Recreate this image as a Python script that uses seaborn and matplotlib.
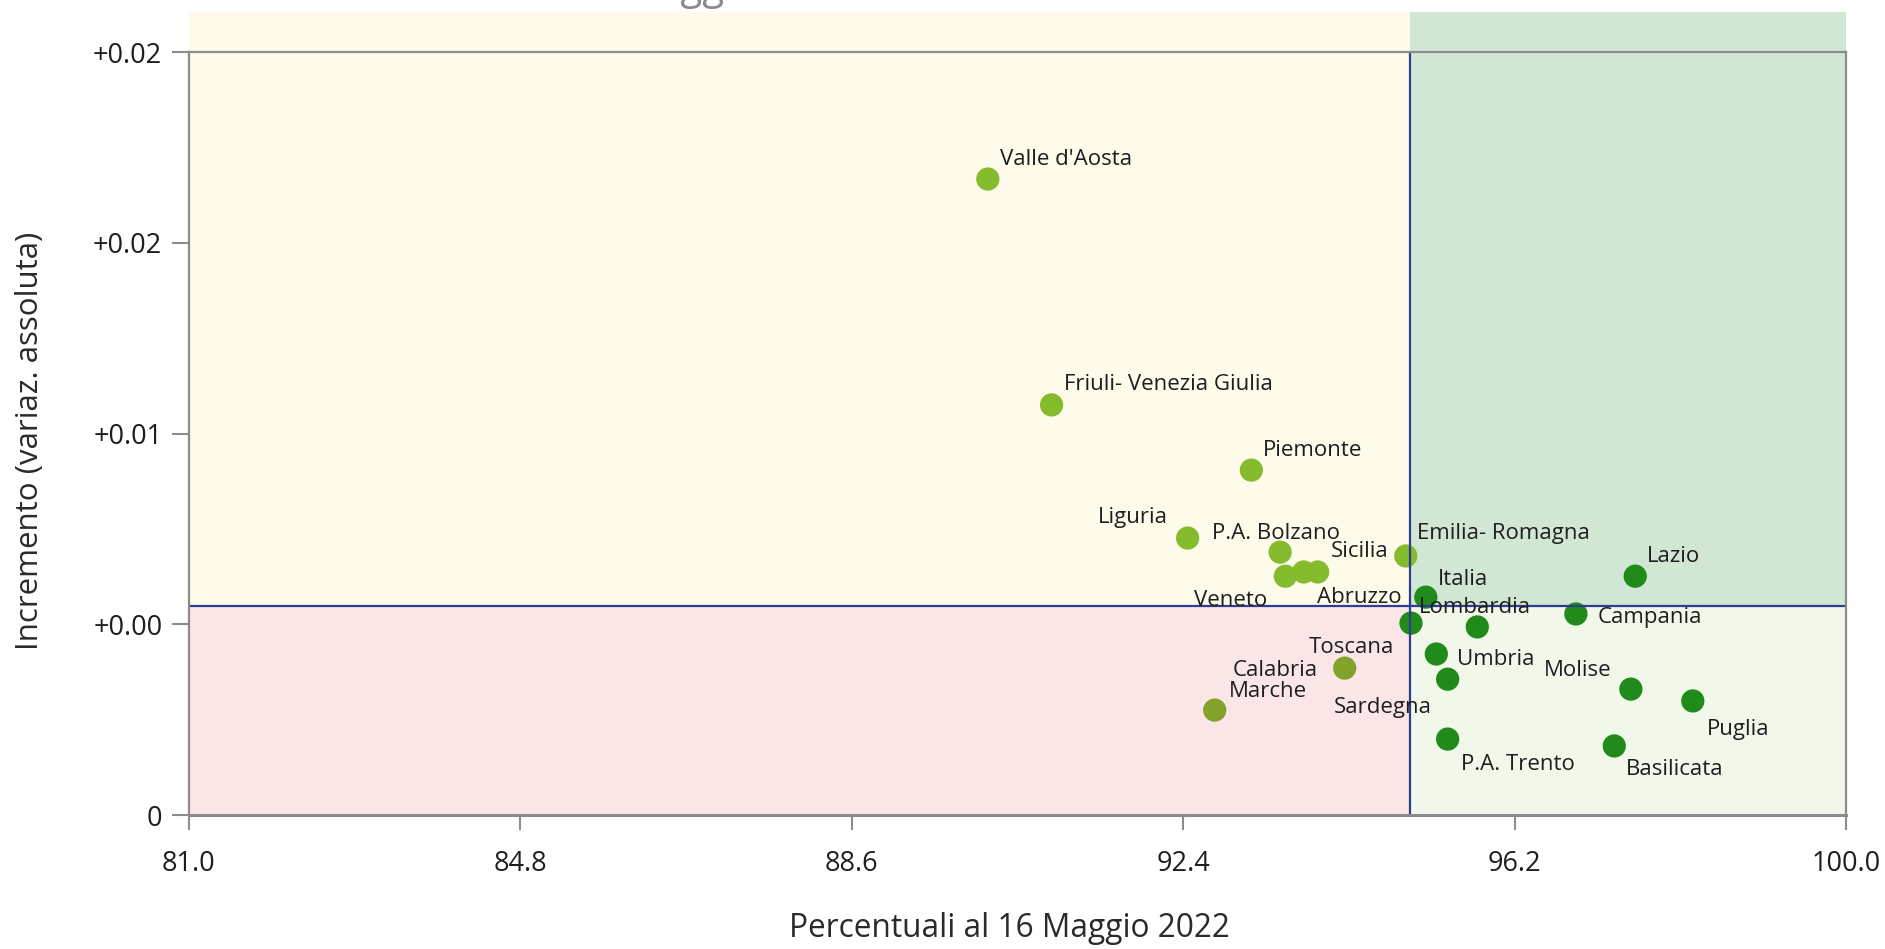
import matplotlib
matplotlib.use("Agg")
import matplotlib.pyplot as plt
from matplotlib.patches import Rectangle
import seaborn as sns
import pandas as pd

# ---------------- data ----------------
regions = ["Valle d'Aosta", "Friuli- Venezia Giulia", "Piemonte", "Liguria",
           "P.A. Bolzano", "Veneto", "Abruzzo", "Sicilia", "Emilia- Romagna",
           "Italia", "Lazio", "Campania", "Lombardia", "Calabria", "Umbria",
           "Sardegna", "Toscana", "Marche", "P.A. Trento", "Molise", "Puglia",
           "Basilicata"]
percentuali = [90.16, 90.89, 93.18, 92.45, 93.51, 93.57, 93.78, 93.94, 94.95,
               95.18, 97.58, 96.90, 95.01, 95.77, 95.30, 95.43, 94.25, 92.76,
               95.43, 97.53, 98.24, 97.34]
incremento = [0.01667, 0.01075, 0.00904, 0.00726, 0.00689, 0.00626, 0.00637,
              0.00637, 0.00679, 0.00571, 0.00626, 0.00527, 0.00503, 0.00493,
              0.00422, 0.00356, 0.00385, 0.00275, 0.00199, 0.00330, 0.00299,
              0.00181]
soglia_x = 95.0
soglia_y = 0.005478
x_ticks = [81.0, 84.8, 88.6, 92.4, 96.2, 100.0]
x_tick_labels = ["81.0", "84.8", "88.6", "92.4", "96.2", "100.0"]
y_ticks = [0.0, 0.005, 0.01, 0.015, 0.02]
y_tick_labels = ["0", "+0.00", "+0.01", "+0.02", "+0.02"]
x_label = "Percentuali al 16 Maggio 2022"
y_label = "Incremento (variaz. assoluta)"

# ---------------- label layout (offset in pixels, horizontal alignment) ----------------
label_layout = {
    "Valle d'Aosta": ((12, 20), "left"),
    "Friuli- Venezia Giulia": ((12, 20), "left"),
    "Piemonte": ((12, 20), "left"),
    "Liguria": ((-20, 21), "right"),
    "P.A. Bolzano": ((-4, 19), "center"),
    "Veneto": ((-18, -24), "right"),
    "Abruzzo": ((13, -26), "left"),
    "Sicilia": ((13, 20), "left"),
    "Emilia- Romagna": ((11, 22), "left"),
    "Italia": ((12, 18), "left"),
    "Lazio": ((12, 20), "left"),
    "Campania": ((22, -4), "left"),
    "Lombardia": ((8, 16), "left"),
    "Calabria": ((-160, -44), "right"),
    "Umbria": ((21, -5), "left"),
    "Sardegna": ((-65, -28), "center"),
    "Toscana": ((7, 21), "center"),
    "Marche": ((14, 19), "left"),
    "P.A. Trento": ((13, -25), "left"),
    "Molise": ((-19, 19), "right"),
    "Puglia": ((14, -29), "left"),
    "Basilicata": ((12, -24), "left"),
}

df = pd.DataFrame({"regione": regions, "x": percentuali, "y": incremento})


def quadrante(r):
    if r.x >= soglia_x:
        return "dx"
    return "su" if r.y >= soglia_y else "giu"


df["quadrante"] = df.apply(quadrante, axis=1)
palette = {"su": "#84bc2e", "giu": "#83a22b", "dx": "#208b1a"}

# ---------------- figure ----------------
sns.set_theme(style="white")
plt.rcParams["font.family"] = ["Open Sans", "DejaVu Sans"]

fig = plt.figure(figsize=(18.85, 9.49), dpi=100)
ax = fig.add_axes([0.1001, 0.1412, 0.8794, 0.8040])

xmin, xmax = 81.0, 100.0
ymin, ymax = 0.0, 0.02
ytop_bg = 0.02105

bg = [
    (xmin, soglia_y, soglia_x - xmin, ytop_bg - soglia_y, "#fefbea"),
    (soglia_x, soglia_y, xmax - soglia_x, ytop_bg - soglia_y, "#d2e7d3"),
    (xmin, ymin, soglia_x - xmin, soglia_y - ymin, "#fae6e7"),
    (soglia_x, ymin, xmax - soglia_x, soglia_y - ymin, "#f1f8ea"),
]
for x0, y0, w, h, c in bg:
    ax.add_patch(Rectangle((x0, y0), w, h, facecolor=c, edgecolor="none",
                           zorder=0, clip_on=False))

sns.scatterplot(data=df, x="x", y="y", hue="quadrante", palette=palette,
                s=280, linewidth=0, legend=False, ax=ax, zorder=3)

ax.axvline(soglia_x, color="#2e3c94", lw=1.6, zorder=4)
ax.axhline(soglia_y, color="#2e3c94", lw=1.6, zorder=4)

for _, r in df.iterrows():
    off, ha = label_layout[r.regione]
    ax.annotate(r.regione, (r.x, r.y), xytext=off, textcoords="offset pixels",
                ha=ha, va="center", fontsize=16, color="#1e1e1e", zorder=5)

ax.set_xlim(xmin, xmax)
ax.set_ylim(ymin, ymax)
ax.set_xticks(x_ticks)
ax.set_xticklabels(x_tick_labels)
ax.set_yticks(y_ticks)
ax.set_yticklabels(y_tick_labels)

ax.tick_params(axis="x", direction="out", length=11, width=1.5, color="#8c8c8c",
               pad=14, labelsize=19.5, labelcolor="#1e1e1e", bottom=True)
ax.tick_params(axis="y", direction="out", length=12, width=1.5, color="#8c8c8c",
               pad=7, labelsize=19.5, labelcolor="#1e1e1e", left=True)

for side, sp in ax.spines.items():
    sp.set_visible(True)
    sp.set_color("#8c8c8c")
    sp.set_linewidth(1.6)
    sp.set_zorder(6)
ax.spines["bottom"].set_linewidth(2.2)

ax.set_xlabel(x_label, fontsize=22.8, color="#2a2a2a")
ax.set_ylabel(y_label, fontsize=22.5, color="#2a2a2a")
ax.xaxis.set_label_coords(0.495, -0.1494)
ax.xaxis.label.set_verticalalignment("center")
ax.yaxis.set_label_coords(-0.0957, 0.49)
ax.yaxis.label.set_verticalalignment("center")
ax.yaxis.label.set_horizontalalignment("center")

# title cut off at the top edge of the image (only descenders visible)
fig.text(0.33, 1.0006, "Maggio", fontsize=29, color="#8a8a8a",
         ha="left", va="baseline")

fig.savefig("out.png", dpi=100)
